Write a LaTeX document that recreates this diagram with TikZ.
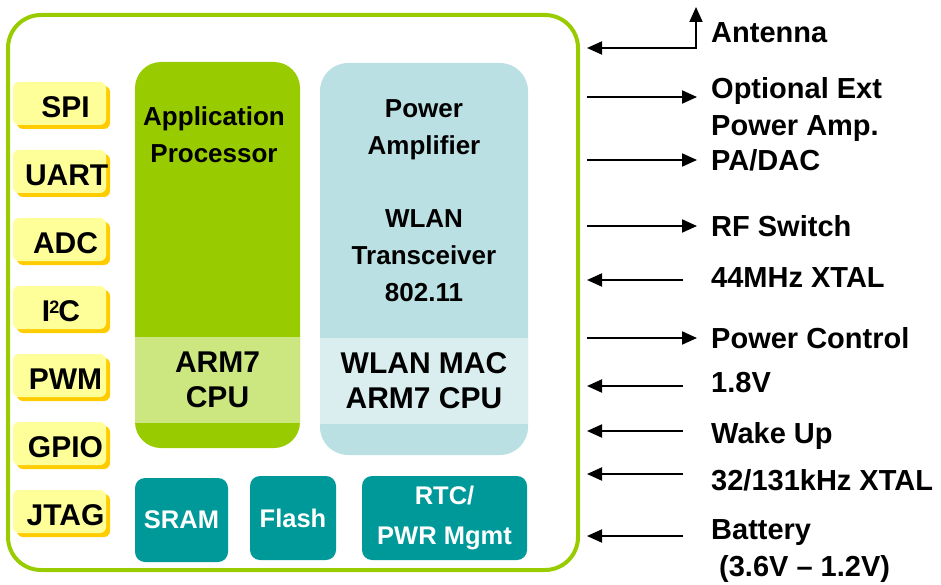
\documentclass[tikz,border=0pt]{standalone}
\usepackage{fontspec}
\setmainfont{Liberation Sans}
\usetikzlibrary{arrows.meta,shadows}

\definecolor{chipgreen}{HTML}{99CC00}
\definecolor{cpugreen}{HTML}{CCE680}
\definecolor{rfblue}{HTML}{BBE0E3}
\definecolor{macblue}{HTML}{DAEEF0}
\definecolor{memteal}{HTML}{009999}
\definecolor{portyellow}{HTML}{FFFF99}
\definecolor{portshadow}{HTML}{FFCC00}

\begin{document}
\begin{tikzpicture}[
x=1pt, y=-1pt,
every node/.style={
font=\bfseries,
align=center,
inner sep=0pt
},
chip/.style={
draw=chipgreen,
line width=4pt,
rounded corners=33pt,
minimum width=570pt,
minimum height=555pt
},
block/.style={
rounded corners=26pt
},
band/.style={
minimum height=86pt,
font=\bfseries\fontsize{30}{35}\selectfont
},
title/.style={
font=\bfseries\fontsize{26}{37}\selectfont
},
mem/.style={
fill=memteal,
rounded corners=10pt,
text=white,
minimum height=84pt,
font=\bfseries\fontsize{25.5}{40}\selectfont
},
port/.style={
fill=portyellow,
rounded corners=6pt,
text width=93pt,
minimum height=43pt,
text height=27.5pt,
text depth=0pt,
copy shadow={shadow xshift=4pt, shadow yshift=-4pt, fill=portshadow, draw=none},
font=\bfseries\fontsize{30}{30}\selectfont
},
sig/.style={
anchor=west,
text height=20.5pt,
text depth=0pt,
font=\bfseries\fontsize{29}{37}\selectfont
},
sigtwo/.style={
anchor=west,
align=left,
font=\bfseries\fontsize{29}{37}\selectfont
},
outof/.style={
line width=2pt,
-{Triangle[length=15pt,width=13pt]}
},
into/.style={
line width=2pt,
{Triangle[length=15pt,width=13pt]}-
},
both/.style={
line width=2pt,
{Triangle[length=15pt,width=13pt]}-{Triangle[length=15pt,width=13pt]}
}
]

\useasboundingbox (0,0) rectangle (941,585);

\node[chip] (chip) at (293,292.5) {};

\node[block, fill=chipgreen, minimum width=165pt, minimum height=386pt] (app) at (217.5,255) {};
\node[band, fill=cpugreen, minimum width=165pt] (cpu) at (217.5,380) {ARM7\\CPU};
\node[title] (apptitle) at (214,135) {Application\\Processor};

\node[block, fill=rfblue, rounded corners=28pt, minimum width=208pt, minimum height=392pt] (rf) at (424,259) {};
\node[band, fill=macblue, minimum width=208pt] (mac) at (424,381) {WLAN MAC\\ARM7 CPU};
\node[title] (pa) at (424,129.5) {Power\\Amplifier};
\node[title] (wlan) at (424,255.5) {WLAN\\Transceiver\\802.11};

\node[mem, minimum width=93pt] (sram) at (181.5,520) {SRAM};
\node[mem, minimum width=86pt] (flash) at (293,518) {Flash};
\node[mem, minimum width=165pt] (rtc) at (444.5,518) {RTC/\\PWR Mgmt};

\foreach \n/\t [count=\i from 0] in {spi/\hspace*{12pt}SPI, uart/\hspace*{12pt}UART,
adc/\hspace*{12pt}ADC,
iic/{\hspace*{3pt}I\kern-1pt\raisebox{8pt}{\fontsize{18}{18}\selectfont 2}\kern-1pt C},
pwm/\hspace*{12pt}PWM, gpio/\hspace*{12pt}GPIO, jtag/\hspace*{12pt}JTAG}
\node[port] (\n) at (59.5,{103.5+68*\i}) {\t};

\node[sig] (antenna) at (711,32) {Antenna};
\node[sigtwo] (extpa) at (711,109.5) {Optional Ext\\Power Amp.};
\node[sig] (padac) at (711,160) {PA/DAC};
\node[sig] (rfsw) at (711,226) {RF Switch};
\node[sig] (xtal44) at (711,277) {44MHz XTAL};
\node[sig] (pwrctl) at (711,338) {Power Control};
\node[sig] (v18) at (711,382) {1.8V};
\node[sig] (wake) at (711,433) {Wake Up};
\node[sig] (xtal32) at (711,480) {32/131kHz XTAL};
\node[sigtwo] (batt) at (711,551) {Battery\\\hspace*{8pt}(3.6V -- 1.2V)};

\draw[both] ([xshift=-15pt, yshift=25pt]antenna.west) |- ([xshift=7pt, yshift=-16pt]chip.east |- antenna.west);

\foreach \s/\dy in {extpa/12.5, padac/0, rfsw/0, pwrctl/0}
\draw[outof] ([xshift=7pt, yshift=\dy pt]chip.east |- \s.west) -- ([xshift=-14pt, yshift=\dy pt]\s.west);

\foreach \s/\dy in {xtal44/-3, v18/-4, wake/2, xtal32/6, batt/15}
\draw[into] ([xshift=7pt, yshift=\dy pt]chip.east |- \s.west) -- ([xshift=-28pt, yshift=\dy pt]\s.west);

\end{tikzpicture}
\end{document}
